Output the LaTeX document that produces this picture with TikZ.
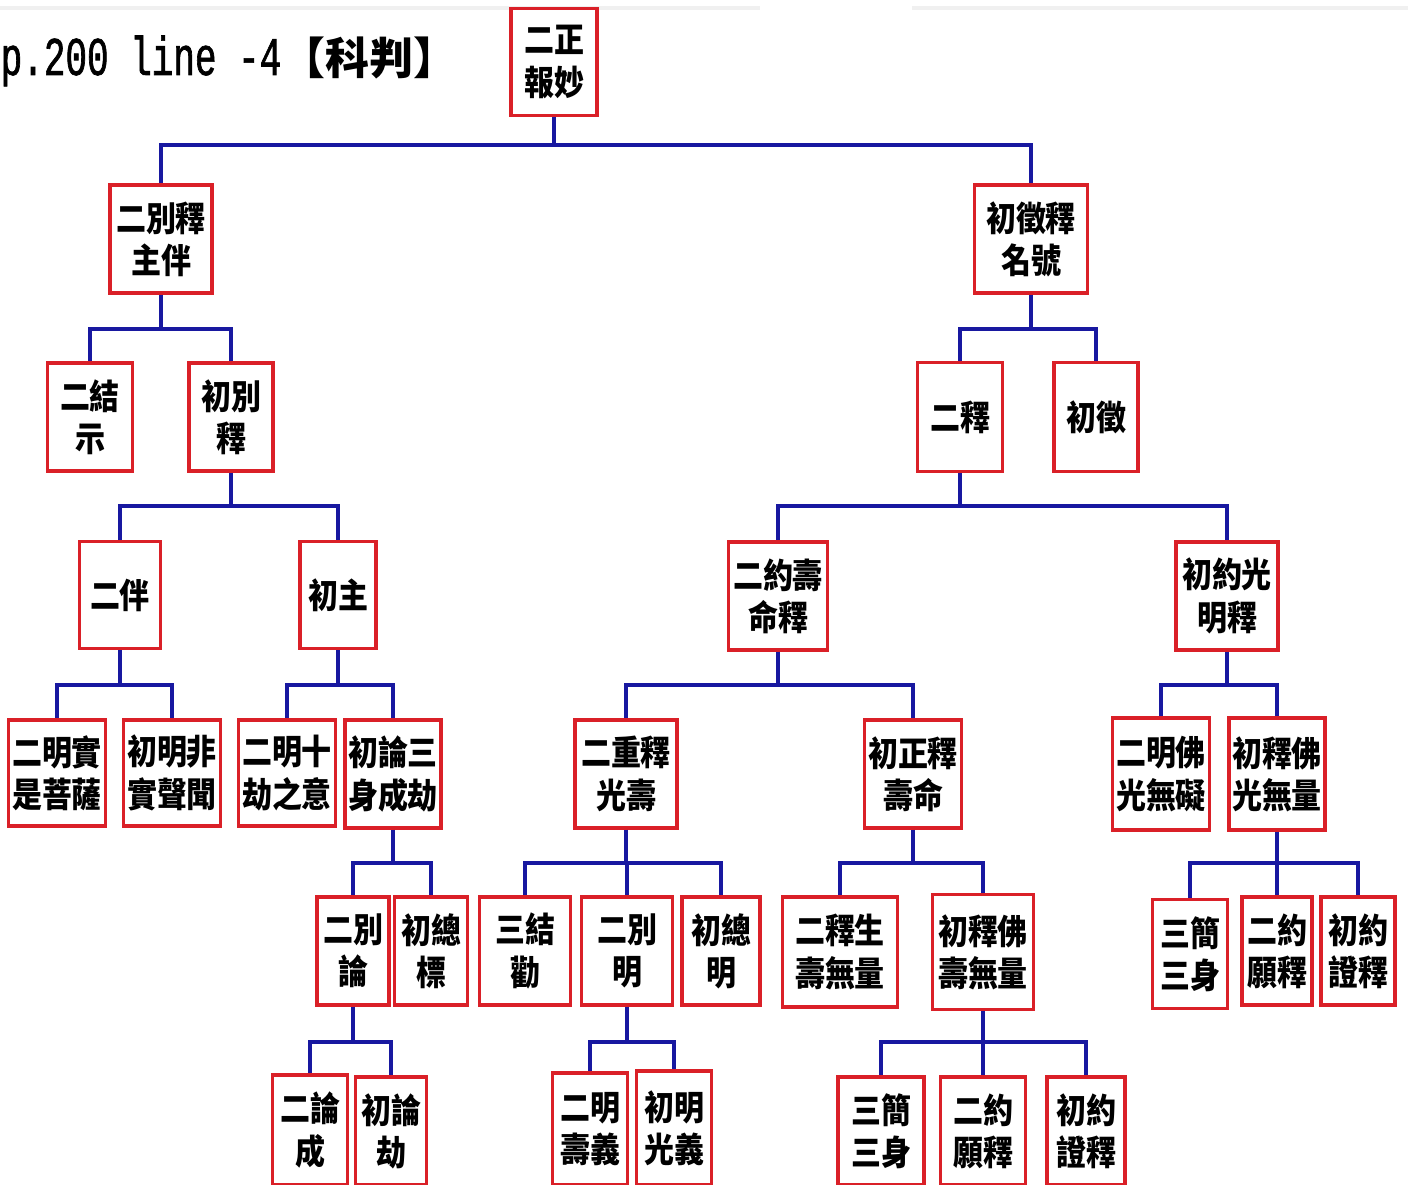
\documentclass[tikz,border=0pt]{standalone}
\usepackage{fontspec}
\newfontfamily\boxfont[FakeStretch=0.87]{Noto Sans CJK TC}
\newfontfamily\cjkbold{Noto Sans CJK TC}
\newfontfamily\titlefont[FakeStretch=0.66,FakeBold=1.2]{Liberation Mono}
\definecolor{boxred}{RGB}{218,32,40}
\definecolor{linkblue}{RGB}{24,24,160}
\begin{document}
\begin{tikzpicture}[x=0.01cm,y=-0.01cm]
        \tikzstyle{box}=[draw=boxred, line width=1.1pt, fill=white, align=center, inner sep=0pt,
          minimum height=1.08cm, font=\boxfont\bfseries\fontsize{9.8}{12}\selectfont]
        \tikzstyle{link}=[draw=linkblue, line width=1pt]
        \useasboundingbox (0,0) rectangle (1408,1185);
        \fill[gray!12] (0,6) rectangle (760,10);
        \fill[gray!12] (912,6) rectangle (1408,10);
        \node[anchor=base west, inner sep=0pt] (title) at (0,75)
          {\titlefont\fontsize{15.5}{18}\selectfont p.200 line -4\cjkbold\bfseries\fontsize{12.5}{14}\selectfont【科判】};
        \coordinate (l1) at (0,145);
        \coordinate (l2) at (0,329);
        \coordinate (l3) at (0,506);
        \coordinate (l4) at (0,685);
        \coordinate (l5) at (0,863);
        \coordinate (l6) at (0,1042);
        \node[box, minimum width=0.86cm, minimum height=1.07cm] (r) at (554,62) {二正\\報妙};
        \node[box, minimum width=1.02cm] (a) at (161,239) {二別釋\\主伴};
        \node[box, minimum width=1.13cm] (b) at (1031,239) {初徵釋\\名號};
        \node[box, minimum width=0.85cm] (c) at (90,417) {二結\\示};
        \node[box, minimum width=0.84cm] (d) at (231,417) {初別\\釋};
        \node[box, minimum width=0.85cm, minimum height=1.09cm] (o) at (960,417) {二釋};
        \node[box, minimum width=0.84cm, minimum height=1.09cm] (p) at (1096,417) {初徵};
        \node[box, minimum width=0.81cm, minimum height=1.07cm] (e) at (120,595) {二伴};
        \node[box, minimum width=0.76cm, minimum height=1.07cm] (f) at (338,595) {初主};
        \node[box, minimum width=0.99cm] (q) at (778,596) {二約壽\\命釋};
        \node[box, minimum width=1.02cm] (s) at (1227,596) {初約光\\明釋};
        \node[box, minimum width=0.97cm, minimum height=1.06cm] (g) at (57,773) {二明實\\是菩薩};
        \node[box, minimum width=0.97cm, minimum height=1.06cm] (h) at (172,773) {初明非\\實聲聞};
        \node[box, minimum width=0.97cm, minimum height=1.06cm] (i) at (287,773) {二明十\\劫之意};
        \node[box, minimum width=0.96cm] (j) at (393,774) {初論三\\身成劫};
        \node[box, minimum width=1.02cm] (t) at (626,774) {二重釋\\光壽};
        \node[box, minimum width=0.97cm] (u) at (913,774) {初正釋\\壽命};
        \node[box, minimum width=0.97cm, minimum height=1.12cm] (v) at (1161,774) {二明佛\\光無礙};
        \node[box, minimum width=0.96cm, minimum height=1.12cm] (w) at (1277,774) {初釋佛\\光無量};
        \node[box, minimum width=0.72cm] (k) at (353,951) {二別\\論};
        \node[box, minimum width=0.73cm] (l) at (431,951) {初總\\標};
        \node[box, minimum width=0.91cm] (x) at (525,951) {三結\\勸};
        \node[box, minimum width=0.91cm] (y) at (627,951) {二別\\明};
        \node[box, minimum width=0.78cm] (z) at (721,951) {初總\\明};
        \node[box, minimum width=1.15cm, minimum height=1.10cm] (ac) at (840,952) {二釋生\\壽無量};
        \node[box, minimum width=1.01cm, minimum height=1.15cm] (ad) at (983,952) {初釋佛\\壽無量};
        \node[box, minimum width=0.75cm, minimum height=1.09cm] (ba) at (1190,954) {三簡\\三身};
        \node[box, minimum width=0.70cm] (bb) at (1277,951) {二約\\願釋};
        \node[box, minimum width=0.74cm] (bc) at (1358,951) {初約\\證釋};
        \node[box, minimum width=0.75cm, minimum height=1.10cm] (m) at (310,1130) {二論\\成};
        \node[box, minimum width=0.71cm] (n) at (391,1131) {初論\\劫};
        \node[box, minimum width=0.75cm, minimum height=1.12cm] (aa) at (590,1129) {二明\\壽義};
        \node[box, minimum width=0.75cm, minimum height=1.14cm] (ab) at (674,1128) {初明\\光義};
        \node[box, minimum width=0.86cm] (ae) at (881,1131) {三簡\\三身};
        \node[box, minimum width=0.85cm] (af) at (983,1131) {二約\\願釋};
        \node[box, minimum width=0.78cm] (ag) at (1086,1131) {初約\\證釋};
        \foreach \p/\c/\l in {r/a/l1, r/b/l1, a/c/l2, a/d/l2, b/o/l2, b/p/l2,
            d/e/l3, d/f/l3, o/q/l3, o/s/l3,
            e/g/l4, e/h/l4, f/i/l4, f/j/l4, q/t/l4, q/u/l4, s/v/l4, s/w/l4,
            j/k/l5, j/l/l5, t/x/l5, t/y/l5, t/z/l5, u/ac/l5, u/ad/l5, w/ba/l5, w/bb/l5, w/bc/l5,
            k/m/l6, k/n/l6, y/aa/l6, y/ab/l6, ad/ae/l6, ad/af/l6, ad/ag/l6}
          \draw[link] (\p.south) -- (\p.south |- \l) -| (\c.north);
\end{tikzpicture}
\end{document}
